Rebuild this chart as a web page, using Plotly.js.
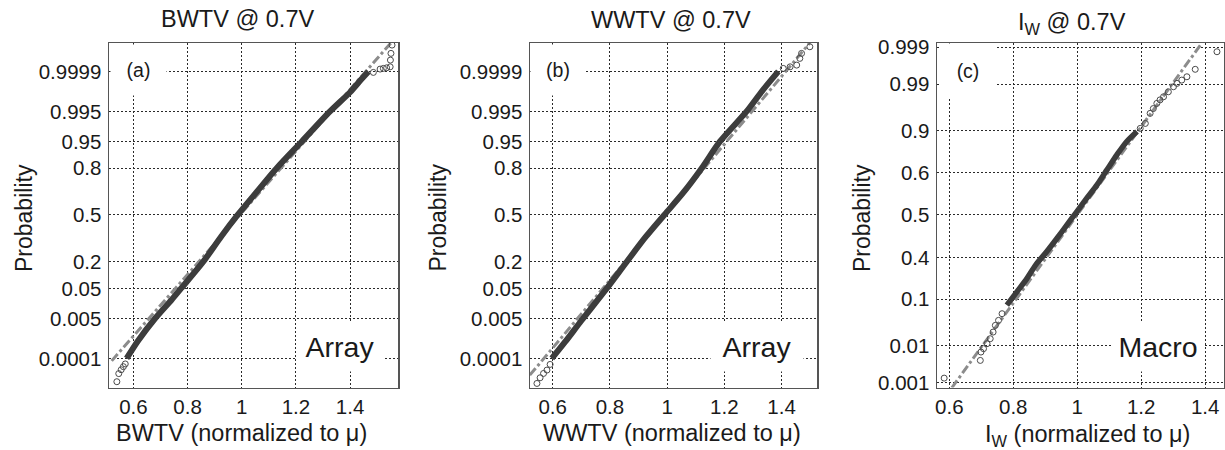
<!DOCTYPE html>
<html>
<head>
<meta charset="utf-8">
<script src="https://cdn.plot.ly/plotly-3.0.1.min.js"></script>
<style>
  html, body { margin: 0; padding: 0; background: #fff; }
  #chart { width: 1225px; height: 450px; }
</style>
</head>
<body>
<div id="chart"></div>
<script>
// Normal probability plots: y values are normal scores, labelled as probabilities.
const arrayTickPos  = [-3.719, -2.682, -1.904, -1.211, 0, 1.211, 1.904, 2.682, 3.719];
const arrayTickText = ['0.0001', '0.005', '0.05', '0.2', '0.5', '0.8', '0.95', '0.995', '0.9999'];
const macroTickPos  = [-3.09, -2.41, -1.55, -0.782, 0, 0.782, 1.55, 2.41, 3.09];
const macroTickText = ['0.001', '0.01', '0.1', '0.4', '0.5', '0.6', '0.9', '0.99', '0.999'];
const xTickVals = [0.6, 0.8, 1, 1.2, 1.4];
const xTickText = ['0.6', '0.8', '1', '1.2', '1.4'];

// (a) BWTV, array
const bwtvBandX = [0.575, 0.618, 0.680, 0.742, 0.776, 0.858, 0.925, 0.985, 1.057, 1.129, 1.222, 1.326, 1.400, 1.440, 1.468];
const bwtvBandZ = [-3.716, -3.25, -2.682, -2.19, -1.904, -1.211, -0.55, 0, 0.61, 1.211, 1.904, 2.682, 3.18, 3.50, 3.719];
const bwtvTailX = [0.539, 0.546, 0.555, 0.563, 0.570, 1.486, 1.511, 1.523, 1.535, 1.548, 1.549, 1.551, 1.555];
const bwtvTailZ = [-4.32, -4.11, -4.01, -3.93, -3.86, 3.693, 3.779, 3.797, 3.812, 3.838, 4.012, 4.186, 4.401];
const bwtvFitX = [0.52, 1.55];
const bwtvFitZ = [-3.78, 4.45];

// (b) WWTV, array
const wwtvBandX = [0.597, 0.644, 0.700, 0.789, 0.859, 0.925, 0.990, 1.055, 1.121, 1.185, 1.278, 1.332, 1.389];
const wwtvBandZ = [-3.716, -3.284, -2.74, -1.904, -1.211, -0.57, 0, 0.563, 1.211, 1.904, 2.682, 3.21, 3.719];
const wwtvTailX = [0.545, 0.556, 0.568, 0.580, 0.591, 1.406, 1.430, 1.453, 1.464, 1.470, 1.499];
const wwtvTailZ = [-4.365, -4.218, -4.106, -4.019, -3.872, 3.797, 3.838, 3.882, 4.056, 4.186, 4.357];
const wwtvFitX = [0.52, 1.499];
const wwtvFitZ = [-4.15, 4.46];

// (c) I_W, macro
const iwBandX = [0.780, 0.812, 0.843, 0.870, 0.905, 0.937, 0.968, 0.999, 1.030, 1.062, 1.093, 1.124, 1.155, 1.187];
const iwBandZ = [-1.661, -1.413, -1.168, -0.923, -0.675, -0.430, -0.185, 0.063, 0.308, 0.554, 0.830, 1.107, 1.354, 1.539];
const iwTailX = [0.584, 0.697, 0.699, 0.707, 0.718, 0.728, 0.737, 0.744, 0.754, 0.765,
                 1.197, 1.213, 1.228, 1.238, 1.249, 1.259, 1.270, 1.285, 1.301, 1.312, 1.327, 1.343, 1.369, 1.437];
const iwTailZ = [-3.007, -2.681, -2.527, -2.465, -2.373, -2.281, -2.159, -2.035, -1.943, -1.820,
                 1.594, 1.686, 1.871, 1.96, 2.055, 2.12, 2.177, 2.269, 2.362, 2.424, 2.485, 2.546, 2.683, 3.007];
const iwFitX = [0.608, 1.390];
const iwFitZ = [-3.185, 3.168];

const W = 1225, H = 450;
const FONT = 'Arial, "Liberation Sans", Helvetica, sans-serif';
const INK = '#1a1a1a';

function panel(xa, ya, bandX, bandZ, tailX, tailZ, fitX, fitZ, bandWidth) {
  return [
    { x: fitX, y: fitZ, xaxis: xa, yaxis: ya, mode: 'lines', hoverinfo: 'skip',
      line: { color: '#8c8c8c', width: 3, dash: 'dashdot' } },
    { x: bandX, y: bandZ, xaxis: xa, yaxis: ya, mode: 'lines', hoverinfo: 'skip',
      line: { color: '#3c3c3c', width: bandWidth, shape: 'spline', smoothing: 0.8 } },
    { x: tailX, y: tailZ, xaxis: xa, yaxis: ya, mode: 'markers', hoverinfo: 'skip',
      marker: { symbol: 'circle-open', size: 6, color: '#4a4a4a', line: { width: 1 } } }
  ];
}

const data = [
  ...panel('x', 'y', bwtvBandX, bwtvBandZ, bwtvTailX, bwtvTailZ, bwtvFitX, bwtvFitZ, 6),
  ...panel('x2', 'y2', wwtvBandX, wwtvBandZ, wwtvTailX, wwtvTailZ, wwtvFitX, wwtvFitZ, 6),
  ...panel('x3', 'y3', iwBandX, iwBandZ, iwTailX, iwTailZ, iwFitX, iwFitZ, 5.5)
];

function common() {
  return {
    showgrid: true, gridcolor: '#2a2a2a', gridwidth: 1, griddash: '2px,2px',
    showline: true, mirror: true, linecolor: '#555', linewidth: 1.5,
    zeroline: false, ticks: '', fixedrange: true,
    tickfont: { family: FONT, size: 20.5, color: INK }
  };
}
function xAxis(l, r, range, anchor) {
  return Object.assign(common(), {
    domain: [l / W, r / W], range: range, anchor: anchor,
    tickmode: 'array', tickvals: xTickVals, ticktext: xTickText,
    ticklabelstandoff: 0
  });
}
function yAxis(range, anchor, pos, text) {
  return Object.assign(common(), {
    domain: [1 - 387.5 / H, 1 - 43 / H], range: range, anchor: anchor,
    tickmode: 'array', tickvals: pos, ticktext: text,
    ticklabelstandoff: 2
  });
}

function label(text, px, py, size, extra) {
  return Object.assign({
    text: text, xref: 'paper', yref: 'paper', x: px / W, y: 1 - py / H,
    xanchor: 'center', yanchor: 'middle', showarrow: false,
    font: { family: FONT, size: size, color: INK }
  }, extra || {});
}
function boxed(text, px, py, size, w, h) {
  return label(text, px, py, size, { bgcolor: '#fff', borderpad: 0, width: w, height: h });
}

const annotations = [
  label('BWTV @ 0.7V', 237.5, 19, 23.5),
  label('WWTV @ 0.7V', 671, 20, 23.5),
  label('I<sub>W</sub> @ 0.7V', 1072, 23, 23.5),
  label('BWTV (normalized to μ)', 241, 433, 23.5),
  label('WWTV (normalized to μ)', 671.5, 433, 23.5),
  label('I<sub>W</sub> (normalized to μ)', 1087, 435, 23.5),
  label('Probability', 24, 218, 23, { textangle: -90 }),
  label('Probability', 437.5, 218, 23, { textangle: -90 }),
  label('Probability', 862, 218, 23, { textangle: -90 }),
  boxed('(a)', 138.5, 70, 19.5, 55, 50),
  boxed('(b)', 557.5, 70, 19.5, 54, 50),
  boxed('(c)', 968, 71, 19.5, 56, 54),
  boxed('Array', 339.5, 347, 28.5, 86, 48),
  boxed('Array', 756.5, 347, 28.5, 92, 48),
  boxed('Macro', 1158, 347, 28.5, 90, 48)
];

const layout = {
  width: W, height: H,
  margin: { l: 0, r: 0, t: 0, b: 0 },
  paper_bgcolor: '#fff', plot_bgcolor: '#fff',
  showlegend: false, hovermode: false,
  font: { family: FONT, color: INK },
  xaxis:  xAxis(109, 398, [0.510, 1.577], 'y'),
  xaxis2: xAxis(530, 817, [0.5207, 1.524], 'y2'),
  xaxis3: xAxis(937, 1224, [0.5616, 1.459], 'y3'),
  yaxis:  yAxis([-4.47, 4.455], 'x', arrayTickPos, arrayTickText),
  yaxis2: yAxis([-4.47, 4.455], 'x2', arrayTickPos, arrayTickText),
  yaxis3: yAxis([-3.18, 3.168], 'x3', macroTickPos, macroTickText),
  annotations: annotations
};

Plotly.newPlot('chart', data, layout, { staticPlot: true, displayModeBar: false });
</script>
</body>
</html>
